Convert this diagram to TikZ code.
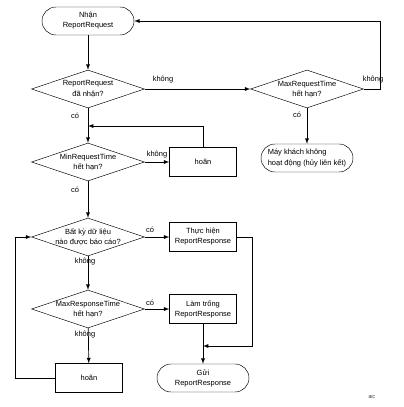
\documentclass[tikz,border=0pt]{standalone}
\usepackage{fontspec}
\setmainfont{Liberation Sans}
\usetikzlibrary{positioning,calc,shapes.geometric}

\begin{document}
\begin{tikzpicture}[
		font=\fontsize{6.4}{8.6}\selectfont,
		term/.style={draw, rectangle, rounded corners=0.42cm, minimum width=2.76cm, minimum height=0.84cm, align=center},
		box/.style={draw, rectangle, minimum width=2.01cm, minimum height=0.87cm, align=center},
		decision/.style={draw, diamond, aspect=3, minimum width=3.39cm, minimum height=1.14cm, inner sep=-2pt, align=center},
		lbl/.style={inner sep=1pt},
		line/.style={-latex, semithick}
		]
		
		\useasboundingbox (0,0) rectangle (12.09,-12.21);
		
		% ======================
		% MAIN COLUMN
		% ======================
		\node[term] (start) at (2.64,-0.63) {Nhận\\ReportRequest};
		
		\node[decision] (d1) at (2.64,-2.67) {ReportRequest\\đã nhận?};
		
		\node[decision] (d2) at (2.64,-4.86) {MinRequestTime\\hết hạn?};
		
		\node[decision] (d3) at (2.64,-7.11) {Bất kỳ dữ liệu\\nào được báo cáo?};
		
		\node[decision] (d4) at (2.64,-9.27) {MaxResponseTime\\hết hạn?};
		
		\node[box] (wait2) at (2.67,-11.34) {hoãn};
		
		% ======================
		% MIDDLE COLUMN
		% ======================
		\node[box] (wait1) at (6.09,-4.86) {hoãn};
		
		\node[box] (act) at (6.09,-7.11) {Thực hiện\\ReportResponse};
		
		\node[box] (clear) at (6.09,-9.27) {Làm trống\\ReportResponse};
		
		\node[term] (send) at (6.09,-11.34) {Gửi\\ReportResponse};
		
		% ======================
		% RIGHT SIDE
		% ======================
		\node[decision] (dmax) at (9.21,-2.67) {MaxRequestTime\\hết hạn?};
		
		\node[term, align=left] (client) at (9.21,-4.74) {Máy khách không\\hoạt động (hủy liên kết)};
		
		% merge points
		\coordinate (m1) at (2.64,-3.78);
		\coordinate (m2) at (6.09,-10.38);
		
		% ======================
		% CONNECTIONS
		% ======================
		\draw[line] (start) -- (d1);
		\draw[line] (d1) -- (d2);
		\draw[line] (d2) -- (d3);
		\draw[line] (d3) -- (d4);
		\draw[line] (d4) -- (wait2);
		\draw[line] (d1) -- (dmax);
		\draw[line] (dmax) -- (client);
		\draw[line] (d2) -- (wait1);
		\draw[line] (d3) -- (act);
		\draw[line] (d4) -- (clear);
		\draw[line] (clear) -- (send);
		
		% ======================
		% LOOPS
		% ======================
		\draw[line] (dmax.east) -- ++(0.51,0) |- (start.east);
		\draw[line] (wait1.north) |- (m1);
		\draw[line] (act.east) -- ++(0.48,0) |- (m2);
		\draw[line] (wait2.west) -- ++(-1.2,0) |- (d3.west);
		
		% ======================
		% LABELS
		% ======================
		\node[lbl] (l1) at (4.89,-2.40) {không};
		\node[lbl] (l2) at (11.19,-2.40) {không};
		\node[lbl] (l3) at (8.91,-3.45) {có};
		\node[lbl] (l4) at (2.25,-3.48) {có};
		\node[lbl] (l5) at (4.71,-4.65) {không};
		\node[lbl] (l6) at (2.25,-5.70) {có};
		\node[lbl] (l7) at (4.50,-6.90) {có};
		\node[lbl] (l8) at (2.55,-7.86) {không};
		\node[lbl] (l9) at (4.50,-9.09) {có};
		\node[lbl] (l10) at (2.55,-10.05) {không};
		
		\node[font=\fontsize{3.5}{4}\selectfont] (iec) at (11.16,-11.91) {IEC};
		
	\end{tikzpicture}
\end{document}
